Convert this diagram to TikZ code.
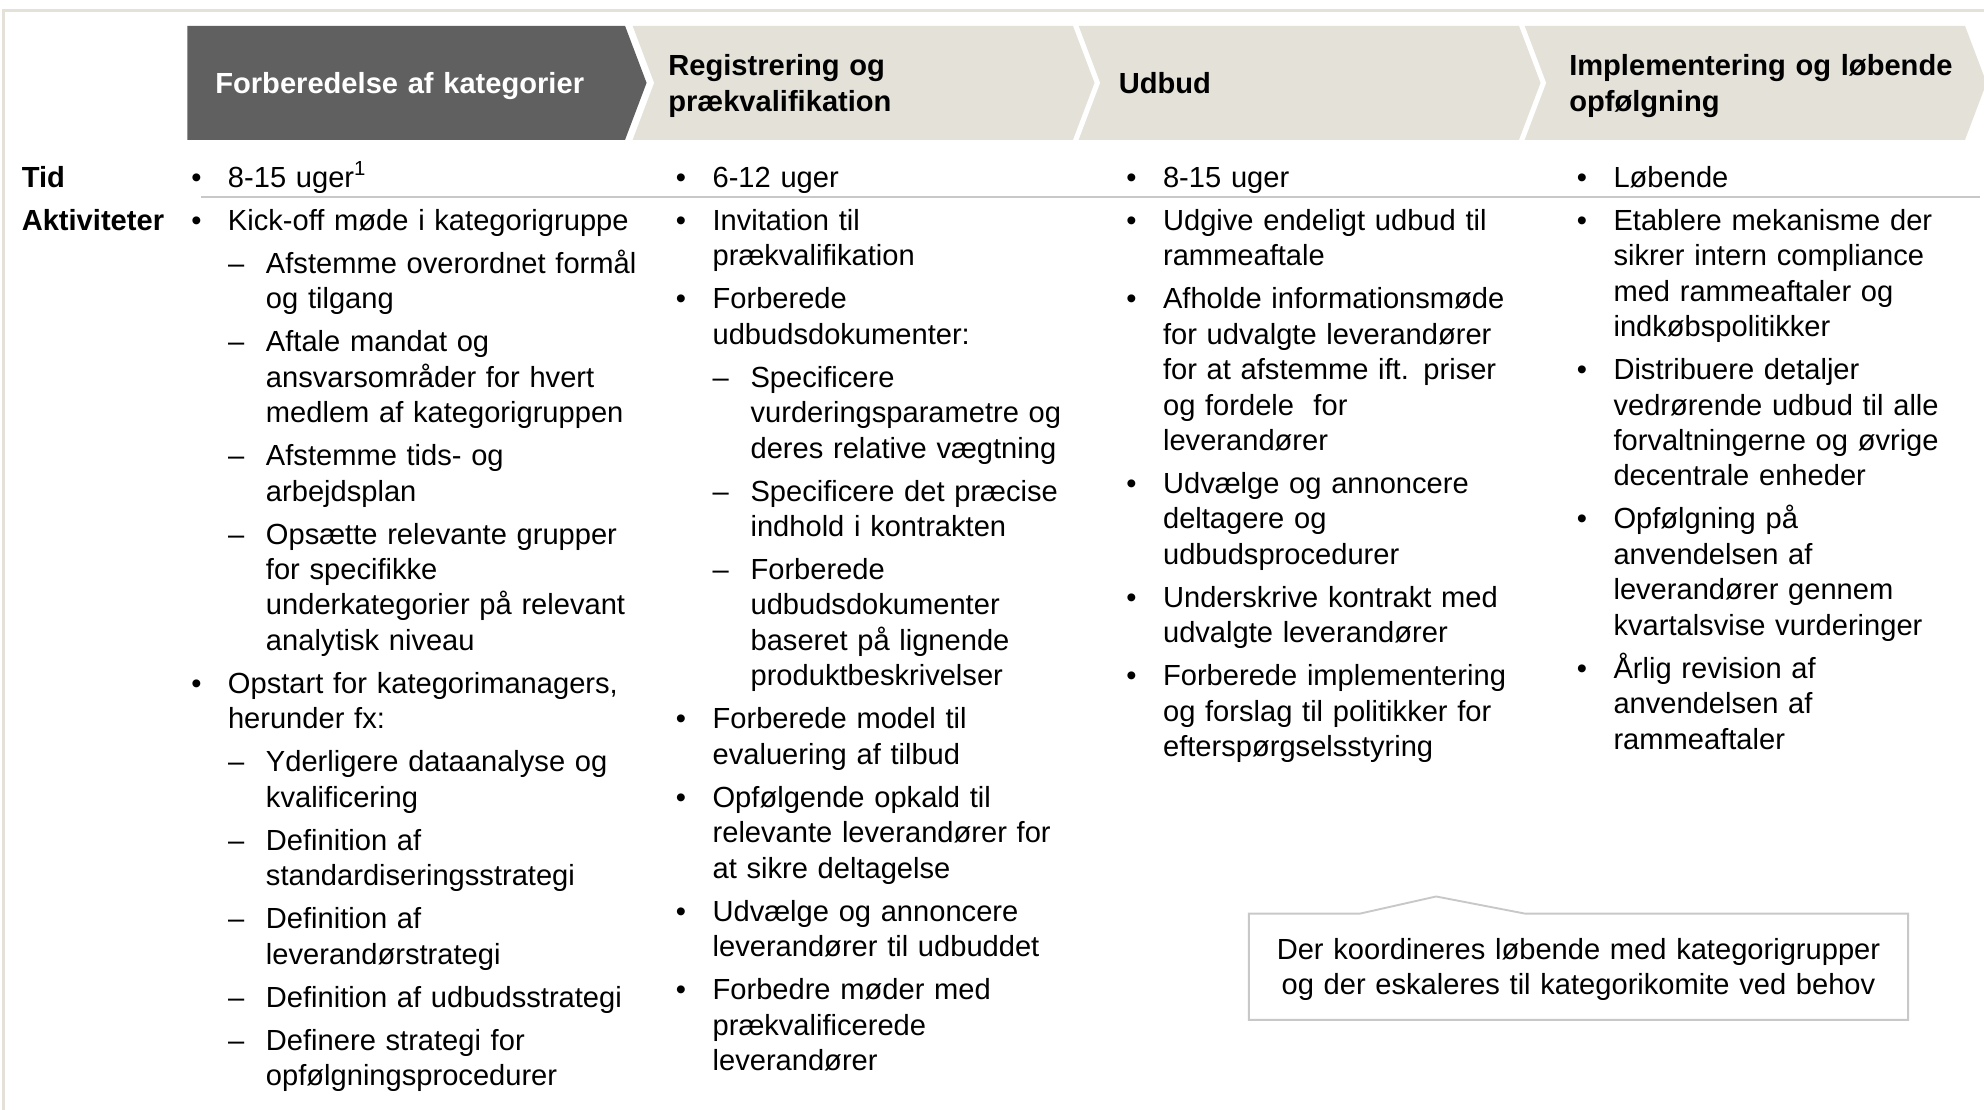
\documentclass[tikz,border=0pt]{standalone}
\usepackage{fontspec}
\setmainfont{Liberation Sans}
\definecolor{phasedark}{RGB}{96,96,96}
\definecolor{phasesand}{RGB}{228,225,216}
\definecolor{linegray}{RGB}{200,200,200}
\newcommand{\bodyfont}{\fontsize{23}{28}\selectfont}
% bullet and dash items with hanging lines
\newcommand{\itm}[1]{\hyphenpenalty=10000\leftskip=29pt\hspace*{-29pt}\makebox[29pt][l]{\textbullet}#1\par}
\newcommand{\subitm}[1]{\hyphenpenalty=10000\leftskip=30pt\hspace*{-30pt}\makebox[30pt][l]{--}#1\par}

\begin{document}
\begin{tikzpicture}[x=1pt, y=-1pt,
    txt/.style={anchor=base west, inner sep=0pt, align=left, text width=360pt, font=\bodyfont},
    head/.style={txt, font=\bodyfont\bfseries},
    frame/.style={draw=phasesand, line width=2.2pt},
    callout/.style={draw=linegray, line width=1.5pt, line join=miter}]
          \useasboundingbox (0,0) rectangle (1568,877);

          % frame and phase arrows
          \draw [frame] (3,877) -- (3,8.5) -- (1568,8.5);
          \fill [phasedark] (148,20.5) -- (494,20.5) -- (511,65.5) -- (494,110.5) -- (148,110.5) -- cycle;
          \fill [phasesand] (500,20.5) -- (848,20.5) -- (865,65.5) -- (848,110.5) -- (500,110.5) -- (517,65.5) -- cycle;
          \fill [phasesand] (852.5,20.5) -- (1200.5,20.5) -- (1217.5,65.5) -- (1200.5,110.5) -- (852.5,110.5) -- (869.5,65.5) -- cycle;
          \fill [phasesand] (1205,20.5) -- (1553,20.5) -- (1570,65.5) -- (1553,110.5) -- (1205,110.5) -- (1222,65.5) -- cycle;

          \node [head, text=white] (hd1) at (170,74) {Forberedelse af kategorier};
          \node [head] (hd2) at (528,60) {Registrering og\\prækvalifikation};
          \node [head] (hd3) at (884,74) {Udbud};
          \node [head] (hd4) at (1240,60) {Implementering og løbende\\opfølgning};

          % row labels
          \node [head] (tid) at (17,148) {Tid};
          \node [head] (akt) at (17,182) {Aktiviteter};
          \draw [linegray, line width=1.2pt] (159,155.5) -- (1565,155.5);

          % time row
          \node [txt] (t1) at (151,148) {\itm{8-15 uger\textsuperscript{1}}};
          \node [txt] (t2) at (534,148) {\itm{6-12 uger}};
          \node [txt] (t3) at (890,148) {\itm{8-15 uger}};
          \node [txt, text width=315pt] (t4) at (1246,148) {\itm{Løbende}};

          % Forberedelse af kategorier
          \node [txt] (a1) at (151,182) {\itm{Kick-off møde i kategorigruppe}};
          \node [txt] (a1a) at (180,216) {\subitm{Afstemme overordnet formål\\og tilgang}};
          \node [txt] (a1b) at (180,278) {\subitm{Aftale mandat og\\ansvarsområder for hvert\\medlem af kategorigruppen}};
          \node [txt] (a1c) at (180,368) {\subitm{Afstemme tids- og\\arbejdsplan}};
          \node [txt] (a1d) at (180,430) {\subitm{Opsætte relevante grupper\\for specifikke\\underkategorier på relevant\\analytisk niveau}};
          \node [txt] (a2) at (151,548) {\itm{Opstart for kategorimanagers,\\herunder fx:}};
          \node [txt] (a2a) at (180,610) {\subitm{Yderligere dataanalyse og\\kvalificering}};
          \node [txt] (a2b) at (180,672) {\subitm{Definition af\\standardiseringsstrategi}};
          \node [txt] (a2c) at (180,734) {\subitm{Definition af\\leverandørstrategi}};
          \node [txt] (a2d) at (180,796) {\subitm{Definition af udbudsstrategi}};
          \node [txt] (a2e) at (180,830) {\subitm{Definere strategi for\\opfølgningsprocedurer}};

          % Registrering og prækvalifikation
          \node [txt] (b1) at (534,182) {\itm{Invitation til\\prækvalifikation}};
          \node [txt] (b2) at (534,244) {\itm{Forberede\\udbudsdokumenter:}};
          \node [txt] (b2a) at (563,306) {\subitm{Specificere\\vurderingsparametre og\\deres relative vægtning}};
          \node [txt] (b2b) at (563,396) {\subitm{Specificere det præcise\\indhold i kontrakten}};
          \node [txt] (b2c) at (563,458) {\subitm{Forberede\\udbudsdokumenter\\baseret på lignende\\produktbeskrivelser}};
          \node [txt] (b3) at (534,576) {\itm{Forberede model til\\evaluering af tilbud}};
          \node [txt] (b4) at (534,638) {\itm{Opfølgende opkald til\\relevante leverandører for\\at sikre deltagelse}};
          \node [txt] (b5) at (534,728) {\itm{Udvælge og annoncere\\leverandører til udbuddet}};
          \node [txt] (b6) at (534,790) {\itm{Forbedre møder med\\prækvalificerede\\leverandører}};

          % Udbud
          \node [txt] (c1) at (890,182) {\itm{Udgive endeligt udbud til\\rammeaftale}};
          \node [txt] (c2) at (890,244) {\itm{Afholde informationsmøde\\for udvalgte leverandører\\for at afstemme ift. priser\\og fordele~ for\\leverandører}};
          \node [txt] (c3) at (890,390) {\itm{Udvælge og annoncere\\deltagere og\\udbudsprocedurer}};
          \node [txt] (c4) at (890,480) {\itm{Underskrive kontrakt med\\udvalgte leverandører}};
          \node [txt] (c5) at (890,542) {\itm{Forberede implementering\\og forslag til politikker for\\efterspørgselsstyring}};

          % Implementering og løbende opfølgning
          \node [txt, text width=315pt] (d1) at (1246,182) {\itm{Etablere mekanisme der\\sikrer intern compliance\\med rammeaftaler og\\indkøbspolitikker}};
          \node [txt, text width=315pt] (d2) at (1246,300) {\itm{Distribuere detaljer\\vedrørende udbud til alle\\forvaltningerne og øvrige\\decentrale enheder}};
          \node [txt, text width=315pt] (d3) at (1246,418) {\itm{Opfølgning på\\anvendelsen af\\leverandører gennem\\kvartalsvise vurderinger}};
          \node [txt, text width=315pt] (d4) at (1246,536) {\itm{Årlig revision af\\anvendelsen af\\rammeaftaler}};

          % note box
          \draw [callout] (987,722) -- (1075,722) -- (1135,708.5) -- (1205,722) -- (1508,722) -- (1508,806) -- (987,806) -- cycle;
          \node [txt, anchor=base, align=center, text width=500pt] (note) at (1247.5,758)
          {Der koordineres løbende med kategorigrupper\\og der eskaleres til kategorikomite ved behov};
        \end{tikzpicture}
\end{document}
